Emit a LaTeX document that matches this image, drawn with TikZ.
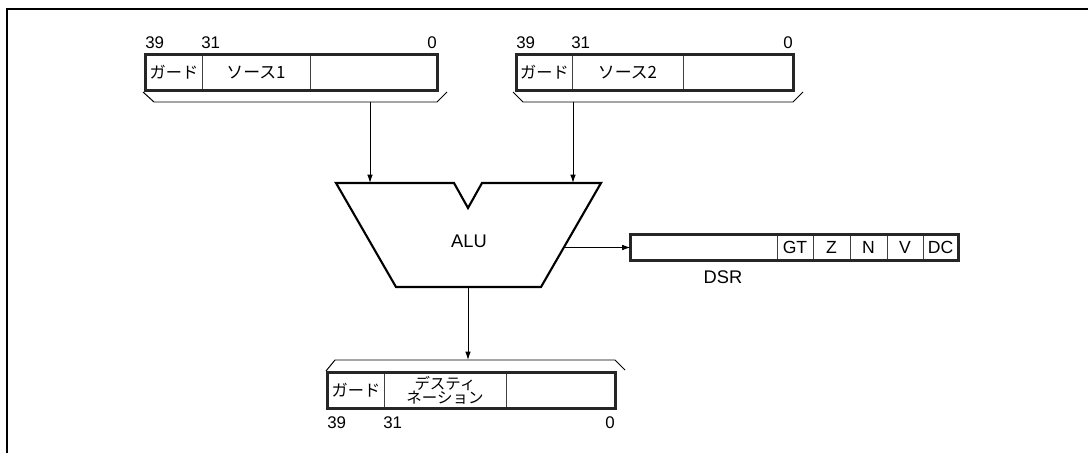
\documentclass[tikz,border=0pt]{standalone}
\usepackage{fontspec}
\setmainfont{Liberation Sans}
\newfontfamily\jpfont{Noto Sans CJK JP}
\usetikzlibrary{arrows.meta}
\tikzstyle{cell}=[draw=black!75, line width=0.6pt, inner sep=0pt, font=\fontsize{12.5}{13}\selectfont]
\tikzstyle{regframe}=[draw=black!85, line width=1.6pt]
\tikzstyle{brace}=[draw=black, line width=0.7pt]
\tikzstyle{bitno}=[inner sep=0pt, font=\fontsize{12}{13}\selectfont]
\tikzstyle{wire}=[draw=black, line width=0.7pt, -{Latex[length=6pt,width=4pt]}]
\tikzstyle{label}=[inner sep=0pt, font=\fontsize{13}{14}\selectfont]

\begin{document}
\begin{tikzpicture}[x=0.025cm, y=-0.025cm]
	\useasboundingbox (0,0) rectangle (1088,453);
	% Frame
	\draw[line width=1.5pt] (7,453) -- (7,9) -- (1088,9);

	% Source 1
	\node[cell, minimum width=1.4cm, minimum height=0.875cm] (s1g) at (174,72.5) {\jpfont\fontsize{11.5}{12}\selectfont ガード};
	\node[cell, minimum width=2.7cm, minimum height=0.875cm] (s1s) at (256,72.5) {\jpfont\fontsize{12}{12}\selectfont ソース1};
	\node[cell, minimum width=3.175cm, minimum height=0.875cm] (s1r) at (373.5,72.5) {};
	\draw[regframe] (s1g.north west) rectangle (s1r.south east);
	\node[bitno, anchor=west] (s1n39) at (145,43) {39};
	\node[bitno, anchor=west] (s1n31) at (201,43) {31};
	\node[bitno, anchor=east] (s1n0) at (437,43) {0};
	\draw[brace] (143,92) -- (154,102) -- (437,102) -- (447,92);
	\coordinate (s1out) at (370,102);

	% Source 2
	\node[cell, minimum width=1.375cm, minimum height=0.875cm] (s2g) at (544.5,72.5) {\jpfont\fontsize{11.5}{12}\selectfont ガード};
	\node[cell, minimum width=2.775cm, minimum height=0.875cm] (s2s) at (627.5,72.5) {\jpfont\fontsize{12}{12}\selectfont ソース2};
	\node[cell, minimum width=2.75cm, minimum height=0.875cm] (s2r) at (738,72.5) {};
	\draw[regframe] (s2g.north west) rectangle (s2r.south east);
	\node[bitno, anchor=west] (s2n39) at (516,43) {39};
	\node[bitno, anchor=west] (s2n31) at (571,43) {31};
	\node[bitno, anchor=east] (s2n0) at (793,43) {0};
	\draw[brace] (513,92) -- (523,102) -- (793,102) -- (803,92);
	\coordinate (s2out) at (573,102);

	% ALU
	\draw[line width=1.5pt, line join=miter] (336,183) -- (454,183) -- (468,208) -- (482,183)
		-- (601,183) -- (541,287) -- (396,287) -- cycle;
	\node[label] (alu) at (469,241) {ALU};
	\coordinate (aluin1) at (370,183);
	\coordinate (aluin2) at (573,183);
	\coordinate (aluright) at (564,247.5);
	\coordinate (alubottom) at (468,287);

	\draw[wire] (s1out) -- (aluin1);
	\draw[wire] (s2out) -- (aluin2);

	% DSR
	\node[cell, minimum width=3.65cm, minimum height=0.625cm] (dsr0) at (704,247.5) {};
	\node[cell, minimum width=0.9cm, minimum height=0.625cm] (dsrgt) at (795,247.5) {GT};
	\node[cell, minimum width=0.925cm, minimum height=0.625cm] (dsrz) at (831.5,247.5) {Z};
	\node[cell, minimum width=0.925cm, minimum height=0.625cm] (dsrn) at (868.5,247.5) {N};
	\node[cell, minimum width=0.9cm, minimum height=0.625cm] (dsrv) at (905,247.5) {V};
	\node[cell, minimum width=0.875cm, minimum height=0.625cm] (dsrdc) at (940.5,247.5) {DC};
	\draw[regframe] (dsr0.north west) rectangle (dsrdc.south east);
	\node[label] (dsrlbl) at (723,277) {DSR};
	\draw[wire] (aluright) -- (dsr0.west);

	% Destination
	\draw[brace] (326,371) -- (335,360) -- (615,360) -- (625,370);
	\coordinate (dstin) at (468,360);
	\draw[wire] (alubottom) -- (dstin);
	\node[cell, minimum width=1.4cm, minimum height=0.875cm] (dg) at (356,390.5) {\jpfont\fontsize{11.5}{12}\selectfont ガード};
	\node[cell, minimum width=3.05cm, minimum height=0.875cm, align=center,
		font=\jpfont\fontsize{11}{10}\selectfont] (ds) at (445,390.5) {デスティ\\ネーション};
	\node[cell, minimum width=2.725cm, minimum height=0.875cm] (dr) at (560.5,390.5) {};
	\draw[regframe] (dg.north west) rectangle (dr.south east);
	\node[bitno, anchor=west] (dn39) at (327,423) {39};
	\node[bitno, anchor=west] (dn31) at (383,423) {31};
	\node[bitno, anchor=east] (dn0) at (615,423) {0};
\end{tikzpicture}
\end{document}
